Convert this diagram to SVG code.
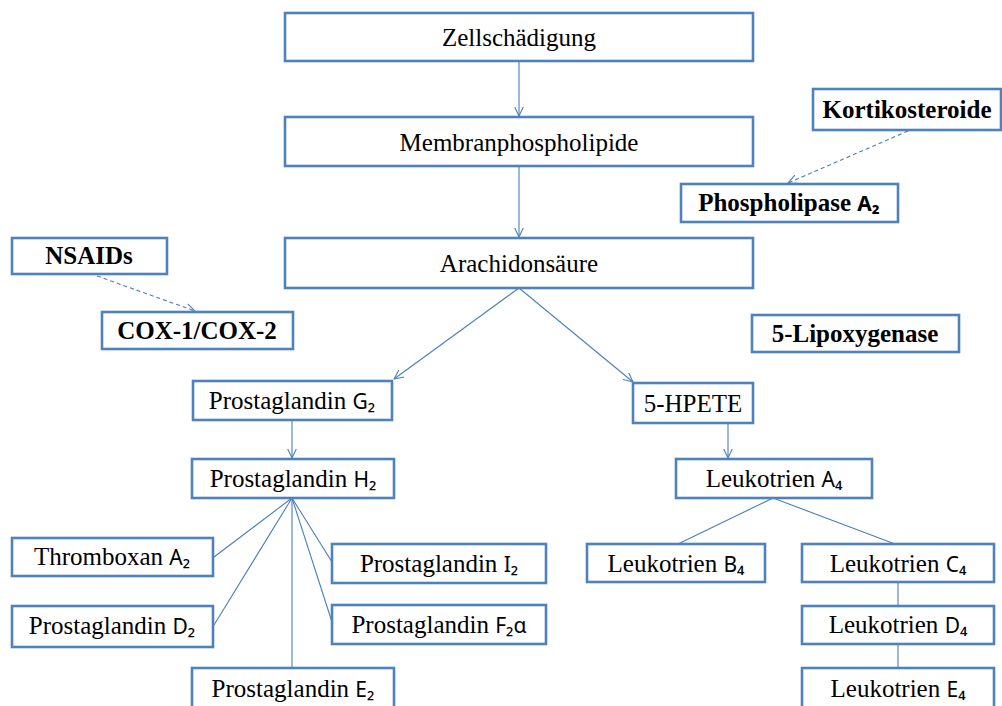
<svg xmlns="http://www.w3.org/2000/svg" width="1002" height="706" viewBox="0 0 1002 706">
<style>
.box{fill:#fff;stroke:#4F81BD;stroke-width:2.6}
.t{font-family:"Liberation Serif","Times New Roman",serif;font-size:25px;fill:#000;text-anchor:middle}
.b{font-weight:bold}
.s{font-family:"Noto Sans","DejaVu Sans",sans-serif;font-size:21px}
.c{fill:none;stroke:#4A7EBB;stroke-width:1.1}
.d{stroke-dasharray:4 3}
</style>
<defs>
<marker id="ah" viewBox="0 0 10 10" refX="9.5" refY="5" markerWidth="10" markerHeight="10" markerUnits="userSpaceOnUse" orient="auto">
<path d="M0,0.5 L9.5,5 L0,9.5" fill="none" stroke="#4A7EBB" stroke-width="1.1"/>
</marker>
</defs>
<g id="connectors">
<line class="c" x1="519" y1="61" x2="519" y2="116" marker-end="url(#ah)"/>
<line class="c" x1="519" y1="166" x2="519" y2="237" marker-end="url(#ah)"/>
<line class="c" x1="519" y1="288" x2="394" y2="379" marker-end="url(#ah)"/>
<line class="c" x1="519" y1="288" x2="633" y2="382" marker-end="url(#ah)"/>
<line class="c" x1="292" y1="420" x2="292" y2="458" marker-end="url(#ah)"/>
<line class="c" x1="728" y1="423" x2="728" y2="458" marker-end="url(#ah)"/>
<line class="c d" x1="97" y1="276" x2="195" y2="311" marker-end="url(#ah)"/>
<line class="c d" x1="908" y1="131" x2="788" y2="183" marker-end="url(#ah)"/>
<line class="c" x1="292" y1="498" x2="214" y2="557"/>
<line class="c" x1="292" y1="498" x2="214" y2="625"/>
<line class="c" x1="292" y1="498" x2="292" y2="668"/>
<line class="c" x1="292" y1="498" x2="332" y2="562"/>
<line class="c" x1="292" y1="498" x2="332" y2="622"/>
<line class="c" x1="773" y1="498" x2="678" y2="544"/>
<line class="c" x1="773" y1="498" x2="895" y2="544"/>
<line class="c" x1="898" y1="582" x2="898" y2="606"/>
<line class="c" x1="898" y1="644" x2="898" y2="668"/>
</g>
<g id="zell"><rect class="box" x="285" y="13" width="468" height="48"/><text class="t" x="519" y="46">Zellschädigung</text></g>
<g id="membran"><rect class="box" x="285" y="117" width="468" height="49"/><text class="t" x="519" y="151">Membranphospholipide</text></g>
<g id="arach"><rect class="box" x="285" y="238" width="468" height="50"/><text class="t" x="519" y="272">Arachidonsäure</text></g>
<g id="korti"><rect class="box" x="813" y="89" width="188" height="41"/><text class="t b" x="907" y="118">Kortikosteroide</text></g>
<g id="phospho"><rect class="box" x="681" y="184" width="217" height="38"/><text class="t b" x="789" y="211">Phospholipase <tspan class="s">A₂</tspan></text></g>
<g id="nsaids"><rect class="box" x="12" y="238" width="155" height="36"/><text class="t b" x="89" y="264">NSAIDs</text></g>
<g id="cox"><rect class="box" x="102" y="312" width="191" height="37"/><text class="t b" x="197" y="339">COX-1/COX-2</text></g>
<g id="lipox"><rect class="box" x="752" y="315" width="207" height="37"/><text class="t b" x="855" y="342">5-Lipoxygenase</text></g>
<g id="pg2"><rect class="box" x="193" y="381" width="199" height="39"/><text class="t" x="292" y="409">Prostaglandin <tspan class="s">G₂</tspan></text></g>
<g id="hpete"><rect class="box" x="633" y="383" width="120" height="40"/><text class="t" x="693" y="412">5-HPETE</text></g>
<g id="ph2"><rect class="box" x="192" y="459" width="202" height="39"/><text class="t" x="293" y="487">Prostaglandin <tspan class="s">H₂</tspan></text></g>
<g id="la4"><rect class="box" x="676" y="459" width="196" height="39"/><text class="t" x="774" y="487">Leukotrien <tspan class="s">A₄</tspan></text></g>
<g id="txa2"><rect class="box" x="12" y="538" width="201" height="38"/><text class="t" x="112" y="565">Thromboxan <tspan class="s">A₂</tspan></text></g>
<g id="pi2"><rect class="box" x="332" y="544" width="214" height="39"/><text class="t" x="439" y="572">Prostaglandin <tspan class="s">I₂</tspan></text></g>
<g id="pd2"><rect class="box" x="12" y="606" width="201" height="41"/><text class="t" x="112" y="634">Prostaglandin <tspan class="s">D₂</tspan></text></g>
<g id="pf2a"><rect class="box" x="332" y="605" width="214" height="39"/><text class="t" x="439" y="633">Prostaglandin <tspan class="s">F₂α</tspan></text></g>
<g id="pe2"><rect class="box" x="192" y="668" width="202" height="42"/><text class="t" x="293" y="697">Prostaglandin <tspan class="s">E₂</tspan></text></g>
<g id="lb4"><rect class="box" x="587" y="544" width="178" height="38"/><text class="t" x="676" y="572">Leukotrien <tspan class="s">B₄</tspan></text></g>
<g id="lc4"><rect class="box" x="802" y="544" width="192" height="38"/><text class="t" x="898" y="572">Leukotrien <tspan class="s">C₄</tspan></text></g>
<g id="ld4"><rect class="box" x="802" y="606" width="192" height="38"/><text class="t" x="898" y="633">Leukotrien <tspan class="s">D₄</tspan></text></g>
<g id="le4"><rect class="box" x="802" y="668" width="192" height="42"/><text class="t" x="898" y="697">Leukotrien <tspan class="s">E₄</tspan></text></g>
</svg>
